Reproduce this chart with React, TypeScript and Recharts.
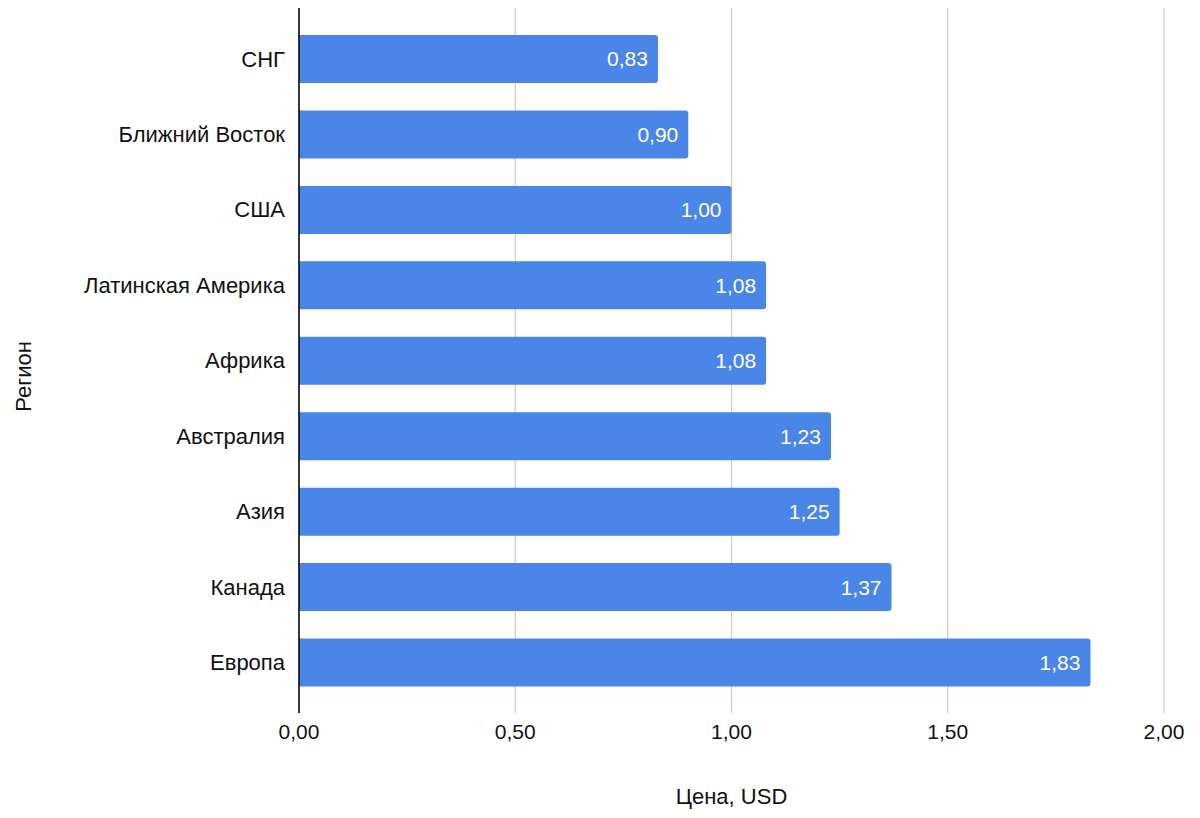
import React from "react";
import { BarChart, Bar, XAxis, YAxis, CartesianGrid, LabelList } from "recharts";

const regions = [
  "СНГ",
  "Ближний Восток",
  "США",
  "Латинская Америка",
  "Африка",
  "Австралия",
  "Азия",
  "Канада",
  "Европа",
];
const prices = [0.83, 0.9, 1.0, 1.08, 1.08, 1.23, 1.25, 1.37, 1.83];
const xTicks = [0, 0.5, 1, 1.5, 2];

const data = regions.map((r, i) => ({ region: r, price: prices[i] }));

const fmt = (v: number) => Number(v).toFixed(2).replace(".", ",");
const FONT = "'Liberation Sans', Arial, Helvetica, sans-serif";

const YTitle = (props: any) => {
  const vb = props.viewBox || { x: 0, y: 0, width: 0, height: 0 };
  const cx = vb.x + 23;
  const cy = vb.y + vb.height / 2 + 16;
  return (
    <text
      x={cx}
      y={cy}
      transform={`rotate(-90, ${cx}, ${cy})`}
      textAnchor="middle"
      dominantBaseline="central"
      fill="#111"
      fontSize={22}
      fontFamily={FONT}
    >
      Регион
    </text>
  );
};

export default function App() {
  return (
    <div style={{ width: 1200, height: 818, fontFamily: FONT }}>
      <style>{`body{margin:0;}`}</style>
      <BarChart
        width={1200}
        height={818}
        data={data}
        layout="vertical"
        margin={{ top: 8, right: 36, bottom: 0, left: 0 }}
        barSize={48}
      >
        <CartesianGrid horizontal={false} stroke="#cccccc" strokeWidth={1.2} />
        <XAxis
          type="number"
          domain={[0, 2]}
          ticks={xTicks}
          tickFormatter={fmt}
          axisLine={false}
          tickLine={false}
          tickSize={0}
          tickMargin={11}
          height={105}
          tick={{ fill: "#111", fontSize: 21, fontFamily: FONT }}
          label={{
            value: "Цена, USD",
            position: "insideBottom",
            offset: 14,
            fill: "#111",
            fontSize: 22,
            fontFamily: FONT,
          }}
        />
        <YAxis
          type="category"
          dataKey="region"
          width={299}
          padding={{ top: 13, bottom: 13 }}
          axisLine={{ stroke: "#000", strokeWidth: 1.5 }}
          tickLine={false}
          tickSize={0}
          tickMargin={14}
          interval={0}
          tick={{ fill: "#111", fontSize: 22, fontFamily: FONT }}
          label={{ content: YTitle } as any}
        />
        <Bar dataKey="price" fill="#4a86e8" radius={[0, 3, 3, 0]} isAnimationActive={false}>
          <LabelList
            dataKey="price"
            position="insideRight"
            offset={10}
            formatter={(v: any) => fmt(v)}
            fill="#ffffff"
            fontSize={21}
            fontFamily={FONT}
          />
        </Bar>
      </BarChart>
    </div>
  );
}
